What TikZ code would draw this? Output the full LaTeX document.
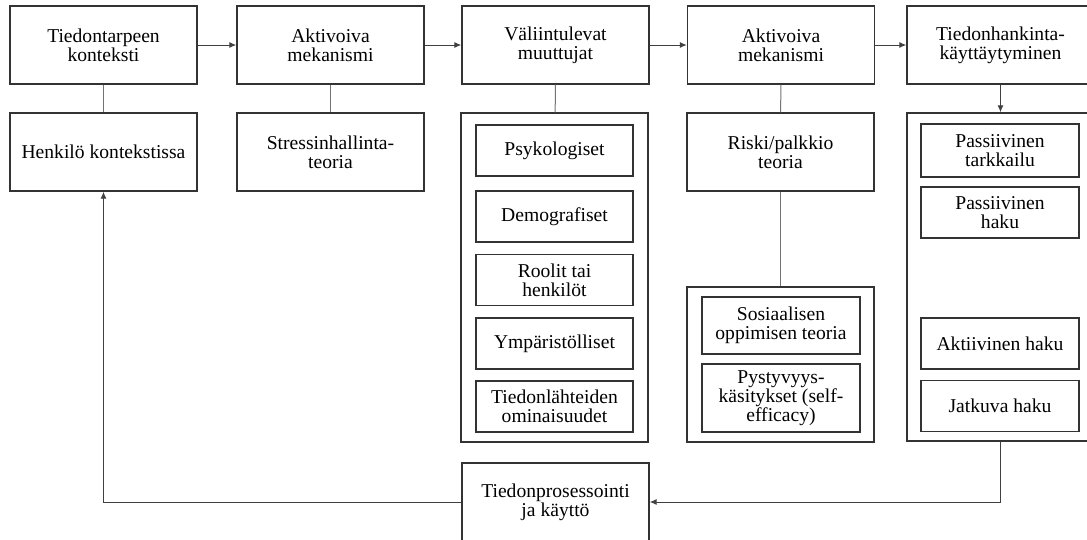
\documentclass[tikz,border=0pt]{standalone}
\usepackage{fontspec}
\setmainfont{Liberation Serif}
\usetikzlibrary{arrows.meta,positioning,calc}

\begin{document}
\begin{tikzpicture}[x=1pt, y=-1pt,
  box/.style={draw=black!80, line width=1.4pt, align=center,
              font=\fontsize{19.6}{19}\selectfont,
              minimum height=78pt, minimum width=187pt, inner sep=2pt},
  frame/.style={draw=black!80, line width=1.4pt, minimum width=187pt, inner sep=0pt},
  sub/.style={box, minimum width=157pt, minimum height=51pt},
  ln/.style={draw=black!55, line width=1pt},
  ar/.style={-{Latex[length=7pt,width=6pt]}, draw=black!75, line width=1pt}]
\useasboundingbox (0,0) rectangle (1087,539);
% top row
\node[box] (ctx)  at (103.5,45) {Tiedontarpeen\\konteksti};
\node[box] (act1) at (330.5,45) {Aktivoiva\\mekanismi};
\node[box] (var)  at (555.5,45) {Väliintulevat\\muuttujat};
\node[box] (act2) at (781,45)   {Aktivoiva\\mekanismi};
\node[box] (seek) at (1000.5,45) {Tiedonhankinta-\\käyttäytyminen};
% second row
\node[box] (pers)   at (103.5,152) {Henkilö kontekstissa};
\node[box] (stress) at (330.5,152) {Stressinhallinta-\\teoria};
\node[box] (risk)   at (780.5,152) {Riski/palkkio\\teoria};
% frames
\node[frame, minimum height=329pt] (varfr)  at (554.5,277.5) {};
\node[frame, minimum height=155pt] (riskfr) at (780.5,364.5) {};
\node[frame, minimum height=328pt] (seekfr) at (1000.5,277) {};
\node[sub] (psy) at (554.5,150.5) {Psykologiset};
\node[sub] (dem) at (554.5,216.5) {Demografiset};
\node[sub] (rol) at (554.5,280)   {Roolit tai\\henkilöt};
\node[sub] (env) at (554.5,343.5) {Ympäristölliset};
\node[sub] (src) at (554.5,406.5) {Tiedonlähteiden\\ominaisuudet};
\node[sub, minimum width=158pt, minimum height=57pt] (soc) at (781,325.5) {Sosiaalisen\\oppimisen teoria};
\node[sub, minimum width=158pt, minimum height=68pt] (eff) at (781,398)   {Pystyvyys-\\käsitykset (self-\\efficacy)};
\node[sub, minimum width=158pt, minimum height=53pt] (pmon) at (1000,150.5) {Passiivinen\\tarkkailu};
\node[sub, minimum width=158pt] (psrc) at (1000,212.5) {Passiivinen\\haku};
\node[sub, minimum width=158pt] (asrc) at (1000,343.5) {Aktiivinen haku};
\node[sub, minimum width=158pt] (csrc) at (1000,406)   {Jatkuva haku};
% bottom
\node[box] (proc) at (555.5,502) {Tiedonprosessointi\\ja käyttö};
% connectors
\draw[ar] (ctx) -- (act1);
\draw[ar] (act1) -- (var);
\draw[ar] (var) -- (act2);
\draw[ar] (act2) -- (seek);
\draw[ar] (seek) -- (seekfr);
\draw[ln] (ctx) -- (pers);
\draw[ln] (act1) -- (stress);
\draw[ln] (var) -- (varfr);
\draw[ln] (act2) -- (risk);
\draw[ln] (risk) -- (riskfr);
\draw[ar] (seekfr.south) |- (proc.east);
\draw[ar] (proc.west) -| (pers.south);
\end{tikzpicture}
\end{document}
